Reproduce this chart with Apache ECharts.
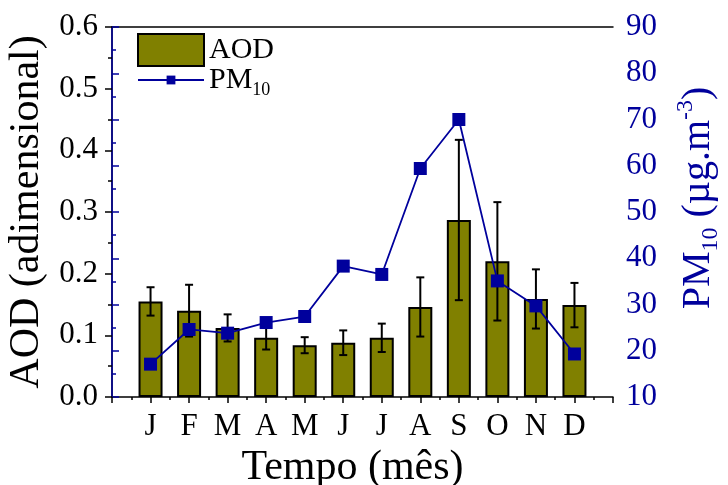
<!DOCTYPE html>
<html>
<head>
<meta charset="utf-8">
<script src="https://cdn.jsdelivr.net/npm/echarts@6/dist/echarts.min.js"></script>
<style>
  html, body { margin: 0; padding: 0; background: #fff; }
  #container { width: 728px; height: 485px; }
</style>
</head>
<body>
<div id="container"></div>
<script>
var months = ['J', 'F', 'M', 'A', 'M', 'J', 'J', 'A', 'S', 'O', 'N', 'D'];
var aod = [0.155, 0.140, 0.112, 0.096, 0.084, 0.088, 0.096, 0.146, 0.287, 0.220, 0.159, 0.149];
var aodErr = [0.023, 0.042, 0.022, 0.019, 0.013, 0.020, 0.023, 0.048, 0.130, 0.096, 0.048, 0.036];
var pm10 = [17.1, 24.6, 23.8, 26.1, 27.4, 38.3, 36.5, 59.4, 70.0, 35.1, 29.7, 19.3];

var serif = 'Liberation Serif';
var blue = '#00009c';

var barData = [], errData = [], lineData = [];
for (var i = 0; i < months.length; i++) {
    barData.push([i + 1, aod[i]]);
    errData.push([i + 1, aod[i] - aodErr[i], aod[i] + aodErr[i]]);
    lineData.push([i + 1, pm10[i]]);
}

// barras de erro
function renderError(params, api) {
    var x = api.value(0);
    var lo = api.coord([x, api.value(1)]);
    var hi = api.coord([x, api.value(2)]);
    var w = 4;
    var st = { stroke: '#000', lineWidth: 2 };
    return {
        type: 'group',
        children: [
            { type: 'line', shape: { x1: lo[0], y1: lo[1], x2: hi[0], y2: hi[1] }, style: st },
            { type: 'line', shape: { x1: lo[0] - w, y1: lo[1], x2: lo[0] + w, y2: lo[1] }, style: st },
            { type: 'line', shape: { x1: hi[0] - w, y1: hi[1], x2: hi[0] + w, y2: hi[1] }, style: st }
        ]
    };
}

var myChart = echarts.init(document.getElementById('container'));
var option = {
    animation: false,
    grid: { left: 112, right: 115, top: 27, bottom: 88, outerBoundsMode: 'none' },
    legend: [
        {
            data: [{ name: 'AOD', icon: 'rect' }],
            left: 132, top: 28,
            itemWidth: 66, itemHeight: 32, itemGap: 6,
            textStyle: { fontFamily: serif, fontSize: 30, color: '#000' }
        },
        {
            data: ['PM10'],
            left: 132, top: 60,
            itemWidth: 66, itemHeight: 11, itemGap: 6,
            formatter: function (n) { return '{m|PM}{s|10}'; },
            textStyle: {
                fontFamily: serif, color: '#000',
                rich: {
                    m: { fontFamily: serif, fontSize: 30, color: '#000' },
                    s: { fontFamily: serif, fontSize: 18, color: '#000', padding: [20, 0, 0, 0] }
                }
            }
        }
    ],
    xAxis: [
        {
            type: 'value',
            min: 0, max: 13, interval: 1,
            name: 'Tempo (mês)',
            nameLocation: 'middle',
            nameGap: 46,
            nameTextStyle: { fontFamily: serif, fontSize: 42, color: '#000', padding: [0, 20, 0, 0] },
            axisLine: { lineStyle: { color: '#000', width: 1.5 } },
            axisTick: { length: 6, lineStyle: { color: '#000', width: 1.5 } },
            minorTick: { show: true, splitNumber: 2, length: 3, lineStyle: { color: '#000', width: 1.5 } },
            splitLine: { show: false },
            axisLabel: {
                fontFamily: serif, fontSize: 31, color: '#000', margin: 14,
                formatter: function (v) { return months[v - 1] || ''; }
            }
        },
        {
            type: 'value',
            position: 'top',
            min: 0, max: 13,
            axisLine: { show: true, lineStyle: { color: '#000', width: 1.5 } },
            axisTick: { show: false },
            axisLabel: { show: false },
            splitLine: { show: false }
        }
    ],
    yAxis: [
        {
            type: 'value',
            min: 0, max: 0.6, interval: 0.1,
            name: 'AOD (adimensional)',
            nameLocation: 'middle',
            nameGap: 61,
            nameTextStyle: { fontFamily: serif, fontSize: 42, color: '#000' },
            axisLine: { show: true, lineStyle: { color: '#000', width: 1.5 } },
            axisTick: { show: true, length: 7, lineStyle: { color: '#000', width: 1.5 } },
            minorTick: { show: true, splitNumber: 2, length: 4, lineStyle: { color: '#000', width: 1.5 } },
            splitLine: { show: false },
            axisLabel: {
                fontFamily: serif, fontSize: 31, color: '#000', margin: 14,
                formatter: function (v) { return v.toFixed(1); }
            }
        },
        {
            type: 'value',
            position: 'right',
            min: 10, max: 90, interval: 10,
            name: '{m|PM}{s|10}{m| (µg.m}{p|-3}{m|)}',
            nameLocation: 'middle',
            nameGap: 60,
            nameTextStyle: {
                fontFamily: serif, fontSize: 40, color: blue,
                padding: [0, 0, 0, 28],
                rich: {
                    m: { fontFamily: serif, fontSize: 40, color: blue },
                    s: { fontFamily: serif, fontSize: 24, color: blue, padding: [26, 0, 0, 0] },
                    p: { fontFamily: serif, fontSize: 24, color: blue, padding: [0, 0, 24, 0] }
                }
            },
            axisLine: { show: true, lineStyle: { color: blue, width: 1.5 } },
            axisTick: { show: true, length: 7, lineStyle: { color: blue, width: 1.5 } },
            minorTick: { show: true, splitNumber: 2, length: 4, lineStyle: { color: blue, width: 1.5 } },
            splitLine: { show: false },
            axisLabel: { fontFamily: serif, fontSize: 31, color: blue, margin: 13 }
        }
    ],
    series: [
        {
            name: 'AOD',
            type: 'bar',
            barWidth: 24,
            data: barData,
            itemStyle: { color: '#808000', borderColor: '#000', borderWidth: 2 },
            z: 2
        },
        {
            name: 'erro',
            type: 'custom',
            renderItem: renderError,
            data: errData,
            encode: { x: 0, y: [1, 2] },
            z: 3
        },
        {
            name: 'PM10',
            type: 'line',
            yAxisIndex: 1,
            data: lineData,
            symbol: 'rect',
            symbolSize: 13,
            lineStyle: { color: blue, width: 1.8 },
            itemStyle: { color: blue },
            z: 4
        }
    ]
};
myChart.setOption(option);
</script>
</body>
</html>
